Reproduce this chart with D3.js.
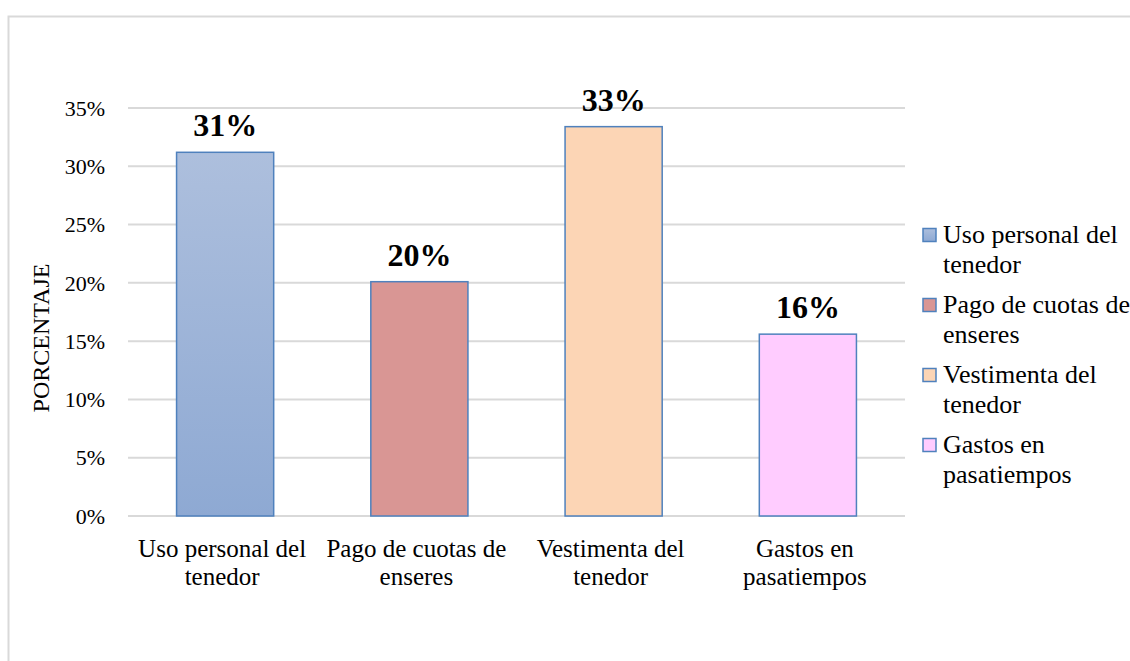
<!DOCTYPE html>
<html>
<head>
<meta charset="utf-8">
<script src="https://cdn.jsdelivr.net/npm/d3@7"></script>
<style>
  body { margin: 0; background: #fff; }
</style>
</head>
<body>
<div id="chart"></div>
<script>
const categories = [
  ["Uso personal del", "tenedor"],
  ["Pago de cuotas de", "enseres"],
  ["Vestimenta del", "tenedor"],
  ["Gastos en", "pasatiempos"]
];
const values = [0.312, 0.201, 0.334, 0.156];
const valueLabels = ["31%", "20%", "33%", "16%"];
const colors = ["#9fb4d8", "#d99694", "#fcd5b5", "#ffccff"];
const yTicks = [0, 0.05, 0.10, 0.15, 0.20, 0.25, 0.30, 0.35];

const W = 1130, H = 661;
const margin = { top: 108, right: 225, bottom: 145, left: 128 };
const FONT = "'Liberation Serif', 'Times New Roman', Tinos, 'DejaVu Serif', serif";

let svg = d3.select("#chart").append("svg")
  .attr("width", W).attr("height", H)
  .style("font-family", FONT);

// outer border
svg.append("rect")
  .attr("x", 8.5).attr("y", 16.5)
  .attr("width", 1140).attr("height", 700)
  .attr("fill", "none").attr("stroke", "#d9d9d9").attr("stroke-width", 2);

const width = W - margin.left - margin.right;
const height = H - margin.top - margin.bottom;

let defs = svg.append("defs");
let grad = defs.append("linearGradient").attr("id", "g1")
  .attr("x1", 0).attr("y1", 0).attr("x2", 0).attr("y2", 1);
grad.append("stop").attr("offset", "0%").attr("stop-color", "#adbfdd");
grad.append("stop").attr("offset", "100%").attr("stop-color", "#8ea9d3");

let g = svg.append("g")
  .attr("transform", "translate(" + margin.left + "," + margin.top + ")");

const x = d3.scaleBand().domain(d3.range(categories.length))
  .range([0, width]).paddingInner(0.5).paddingOuter(0.25);
const y = d3.scaleLinear().domain([0, 0.35]).range([height, 0]);

// gridlines
g.append("g").selectAll("line").data(yTicks).join("line")
  .attr("x1", 0).attr("x2", width)
  .attr("y1", d => y(d)).attr("y2", d => y(d))
  .attr("stroke", "#d9d9d9").attr("stroke-width", 2);

// y axis labels
g.append("g").selectAll("text").data(yTicks).join("text")
  .attr("x", -23).attr("y", d => y(d)).attr("dy", "0.35em")
  .attr("text-anchor", "end").attr("font-size", 22)
  .text(d => Math.round(d * 100) + "%");

g.append("text")
  .attr("transform", "translate(-79," + (height / 2 + 26) + ") rotate(-90)")
  .attr("text-anchor", "middle").attr("font-size", 24)
  .text("PORCENTAJE");

// bars
g.append("g").selectAll("rect").data(values).join("rect")
  .attr("x", (d, i) => x(i)).attr("width", x.bandwidth())
  .attr("y", d => y(d)).attr("height", d => height - y(d))
  .attr("fill", (d, i) => i === 0 ? "url(#g1)" : colors[i])
  .attr("stroke", "#4f81bd").attr("stroke-width", 1.5);

// value labels
g.append("g").selectAll("text").data(values).join("text")
  .attr("x", (d, i) => x(i) + x.bandwidth() / 2)
  .attr("y", d => y(d) - 16)
  .attr("text-anchor", "middle").attr("font-size", 32).attr("font-weight", "bold")
  .text((d, i) => valueLabels[i]);

// category labels
let cat = g.append("g").selectAll("text").data(categories).join("text")
  .attr("x", (d, i) => x(i) + x.bandwidth() / 2 - 3)
  .attr("y", height + 41)
  .attr("text-anchor", "middle").attr("font-size", 25);
cat.each(function (d) {
  d3.select(this).selectAll("tspan").data(d).join("tspan")
    .attr("x", d3.select(this).attr("x"))
    .attr("dy", (t, j) => j === 0 ? 0 : 28)
    .text(t => t);
});

// legend
let lg = svg.append("g").attr("transform", "translate(923,235)");
let item = lg.selectAll("g").data(categories).join("g")
  .attr("transform", (d, i) => "translate(0," + i * 70 + ")");
item.append("rect")
  .attr("x", 0).attr("y", -6.5).attr("width", 13).attr("height", 13)
  .attr("fill", (d, i) => i === 0 ? "url(#g1)" : colors[i])
  .attr("stroke", "#4f81bd").attr("stroke-width", 1.5);
let lt = item.append("text").attr("x", 20).attr("y", 8)
  .attr("font-size", 26);
lt.each(function (d) {
  d3.select(this).selectAll("tspan").data(d).join("tspan")
    .attr("x", 20)
    .attr("dy", (t, j) => j === 0 ? 0 : 30)
    .text(t => t);
});
</script>
</body>
</html>
